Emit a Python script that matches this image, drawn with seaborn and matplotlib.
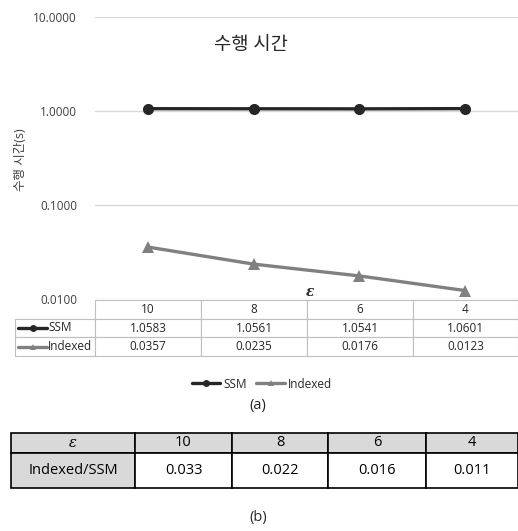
import numpy as np
import pandas as pd
import matplotlib.pyplot as plt
import matplotlib.ticker as mticker
from matplotlib.lines import Line2D
import seaborn as sns

# DATA
eps_labels  = ["10", "8", "6", "4"]
ssm_time    = [1.0583, 1.0561, 1.0541, 1.0601]
indexed_time = [0.0357, 0.0235, 0.0176, 0.0123]
ratio       = [0.033, 0.022, 0.016, 0.011]
series      = ["SSM", "Indexed"]
y_ticks     = [0.01, 0.1, 1, 10]

SSM_COLOR = "#262626"
IDX_COLOR = "#808080"
GRID      = "#d9d9d9"
TXT       = "#262626"

sns.set_style("white")
plt.rcParams['font.family'] = ['Open Sans', 'Noto Sans CJK KR', 'DejaVu Sans']

W, H = 518, 531
fig = plt.figure(figsize=(W / 100, H / 100), dpi=100)

def fx(px):
    return px / W

def fy(py):
    return 1 - py / H

# main axes
ax = fig.add_axes([fx(95), fy(299), fx(518) - fx(95), fy(17) - fy(299)])

df = pd.DataFrame({
    "pos": list(range(len(eps_labels))) * 2,
    "time": ssm_time + indexed_time,
    "method": ["SSM"] * len(ssm_time) + ["Indexed"] * len(indexed_time),
})
sns.lineplot(data=df, x="pos", y="time", hue="method", style="method",
             hue_order=series, style_order=series,
             palette={"SSM": SSM_COLOR, "Indexed": IDX_COLOR},
             markers={"SSM": "o", "Indexed": "^"}, dashes=False,
             linewidth=2.4, markersize=8, markeredgewidth=0,
             legend=False, ax=ax)

ax.set_yscale("log")
ax.set_ylim(0.01, 10)
ax.set_xlim(-0.5, len(eps_labels) - 0.5)
ax.set_yticks(y_ticks)
ax.yaxis.set_major_formatter(mticker.FormatStrFormatter("%.4f"))
ax.yaxis.set_minor_locator(mticker.NullLocator())
ax.set_xticks([])
ax.tick_params(axis="y", length=0, pad=13, labelsize=8.5, labelcolor="#404040")
ax.grid(axis="y", color=GRID, linewidth=1)
for s in ax.spines.values():
    s.set_visible(False)
ax.set_xlabel("")
ax.set_ylabel("")

fig.text(fx(20), fy(160), "수행 시간(s)", rotation=90, ha="center", va="center",
         fontsize=9, color="#404040")
fig.text(fx(251), fy(45), "수행 시간", ha="center", va="center",
         fontsize=13.5, color=TXT)
fig.text(fx(310), fy(292), "ε", ha="center", va="center", fontsize=10,
         family="DejaVu Serif", weight="bold", style="italic", color=TXT)

# data table (a)
tax = fig.add_axes([fx(15), fy(356), fx(518) - fx(15), fy(300) - fy(356)])
tax.axis("off")
cell_text = [[""] + eps_labels,
             [""] + [f"{v:.4f}" for v in ssm_time],
             [""] + [f"{v:.4f}" for v in indexed_time]]
widths = np.array([80, 106, 106, 106, 105], dtype=float)
tbl = tax.table(cellText=cell_text, colWidths=list(widths / widths.sum()),
                cellLoc="center", bbox=[0, 0, 1, 1])
tbl.auto_set_font_size(False)
tbl.set_fontsize(8.5)
for (r, c), cell in tbl.get_celld().items():
    cell.set_edgecolor("#bfbfbf")
    cell.set_linewidth(0.8)
    cell.get_text().set_color(TXT)
tbl[0, 0].visible_edges = ""

row_y = [327.5, 346.5]
for name, color, mk, yy in zip(series, [SSM_COLOR, IDX_COLOR], ["o", "^"], row_y):
    fig.add_artist(Line2D([fx(18), fx(47)], [fy(yy), fy(yy)], color=color,
                          linewidth=2.4, transform=fig.transFigure))
    fig.add_artist(Line2D([fx(32.5)], [fy(yy)], color=color, marker=mk,
                          markersize=5, markeredgewidth=0, transform=fig.transFigure))
    fig.text(fx(48), fy(yy), name, ha="left", va="center", fontsize=8.5, color=TXT)

# legend
handles = [Line2D([], [], color=SSM_COLOR, marker="o", linewidth=2.4, markersize=5, markeredgewidth=0),
           Line2D([], [], color=IDX_COLOR, marker="^", linewidth=2.4, markersize=5, markeredgewidth=0)]
fig.legend(handles, series, loc="center", bbox_to_anchor=(fx(262), fy(384)), ncol=2,
           frameon=False, fontsize=8.5, handlelength=2.4, handletextpad=0.3,
           columnspacing=0.8, labelcolor=TXT)

fig.text(fx(258), fy(406), "(a)", ha="center", va="center", fontsize=10.5,
         style="normal", color=TXT)

# ratio table (b)
bax = fig.add_axes([fx(11), fy(488), fx(518) - fx(11), fy(433) - fy(488)])
bax.axis("off")
b_text = [["ε"] + eps_labels,
          ["Indexed/SSM"] + [f"{v:.3f}" for v in ratio]]
bw = np.array([124, 97, 96, 98, 92], dtype=float)
btbl = bax.table(cellText=b_text, colWidths=list(bw / bw.sum()),
                 cellLoc="center", bbox=[0, 0, 1, 1])
btbl.auto_set_font_size(False)
btbl.set_fontsize(10.5)
for (r, c), cell in btbl.get_celld().items():
    cell.set_edgecolor("black")
    cell.set_linewidth(1.2)
    cell.set_height(20 if r == 0 else 35)
    cell.get_text().set_color("black")
    if r == 0 or c == 0:
        cell.set_facecolor("#d9d9d9")
eps_txt = btbl[0, 0].get_text()
eps_txt.set_fontfamily("DejaVu Serif")
eps_txt.set_style("italic")

fig.text(fx(258), fy(518), "(b)", ha="center", va="center", fontsize=10.5, color=TXT)

fig.savefig("out.png", dpi=100)
